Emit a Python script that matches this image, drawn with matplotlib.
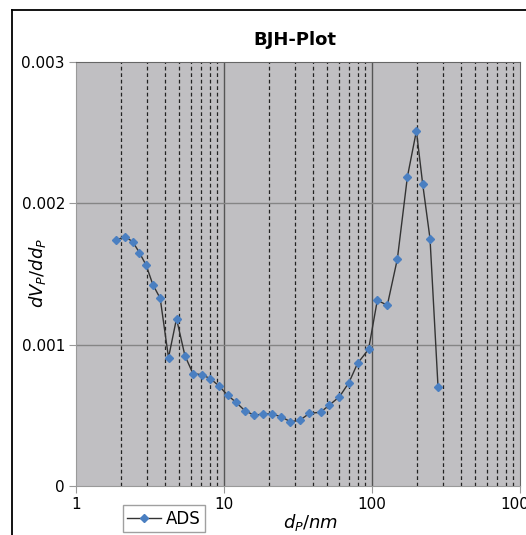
"""
BJH pore size distribution plot (dV/dd vs pore diameter).
"""

import matplotlib
matplotlib.use("Agg")
import matplotlib.pyplot as plt
from matplotlib.lines import Line2D
from matplotlib.ticker import LogLocator, FixedLocator, NullFormatter

# pore diameter [nm]
d_p = [1.865, 2.157, 2.42, 2.683, 2.978, 3.306, 3.705, 4.217, 4.776, 5.445,
       6.17, 7.05, 8.08, 9.25, 10.58, 12.06, 13.83, 16.04, 18.37, 21.01,
       24.32, 28.11, 32.51, 37.8, 44.9, 51.6, 60.3, 69.8, 79.9, 94.8,
       108.6, 126.9, 148.4, 173.4, 199.5, 220.1, 246.6, 279.3]
# dV/dd (adsorption branch)
dv_dd = [1.741e-3, 1.764e-3, 1.727e-3, 1.651e-3, 1.562e-3, 1.425e-3, 1.328e-3,
         0.908e-3, 1.184e-3, 0.922e-3, 0.795e-3, 0.788e-3, 0.760e-3, 0.708e-3,
         0.642e-3, 0.592e-3, 0.533e-3, 0.500e-3, 0.510e-3, 0.510e-3, 0.490e-3,
         0.455e-3, 0.465e-3, 0.514e-3, 0.522e-3, 0.573e-3, 0.632e-3, 0.731e-3,
         0.868e-3, 0.967e-3, 1.314e-3, 1.279e-3, 1.607e-3, 2.187e-3, 2.512e-3,
         2.135e-3, 1.750e-3, 0.701e-3]

y_ticks = [0, 0.001, 0.002, 0.003]
y_labels = ["0", "0.001", "0.002", "0.003"]
x_ticks = [1, 10, 100, 1000]
x_labels = ["1", "10", "100", "1000"]

fig = plt.figure(figsize=(5.26, 5.35), dpi=100)
ax = fig.add_axes([0.1445, 0.0916, 0.8441, 0.7925])
ax.set_facecolor("#c0bfc2")

ax.set_xscale("log")
ax.set_xlim(1, 1000)
ax.set_ylim(0, 0.003)

# grid
ax.xaxis.set_minor_locator(LogLocator(base=10, subs=range(2, 10)))
ax.xaxis.set_minor_formatter(NullFormatter())
for decade in (1, 10, 100):
    for m in range(2, 10):
        ax.axvline(decade * m, color="#222222", lw=0.9, ls=(0, (3, 2.2)), zorder=1)
for x in (10, 100):
    ax.axvline(x, color="#555555", lw=1.0, zorder=1)
for y in (0.001, 0.002):
    ax.axhline(y, color="#858585", lw=1.0, zorder=1)

ax.plot(d_p, dv_dd, color="#333333", lw=1.0, marker="D", markersize=4.3,
        markerfacecolor="#4a7fc1", markeredgecolor="#4a7fc1", zorder=3,
        label="ADS")

ax.yaxis.set_major_locator(FixedLocator(y_ticks))
ax.set_yticklabels(y_labels)
ax.xaxis.set_major_locator(FixedLocator(x_ticks))
ax.set_xticklabels(x_labels)
ax.tick_params(axis="both", which="major", labelsize=11, length=5,
               color="#999999", direction="out", pad=3)
ax.tick_params(axis="x", which="minor", length=0)

for side in ("left", "bottom"):
    ax.spines[side].set_color("#9a9a9a")
for side in ("top", "right"):
    ax.spines[side].set_color("#666666")

fig.text(0.561, 0.925, "BJH-Plot", ha="center", va="center",
         fontsize=13, fontweight="bold")
fig.text(0.59, 0.024, r"$d_P/nm$", ha="center", va="center", fontsize=13)
fig.text(0.072, 0.49, r"$dV_P/dd_P$", ha="center", va="center",
         fontsize=13, rotation=90)

fig.legend(loc="lower left", bbox_to_anchor=(0.228, 0.0), fontsize=12,
           frameon=True, fancybox=False, edgecolor="#888888",
           borderpad=0.25, handlelength=2.0, handletextpad=0.3,
           borderaxespad=0.2)

# outer border of the original chart frame
fig.add_artist(Line2D([0.023, 0.023], [0.0, 0.981], color="black", lw=1.3,
                      transform=fig.transFigure))
fig.add_artist(Line2D([0.023, 1.0], [0.981, 0.981], color="black", lw=1.3,
                      transform=fig.transFigure))

fig.savefig("out.png", dpi=100)
